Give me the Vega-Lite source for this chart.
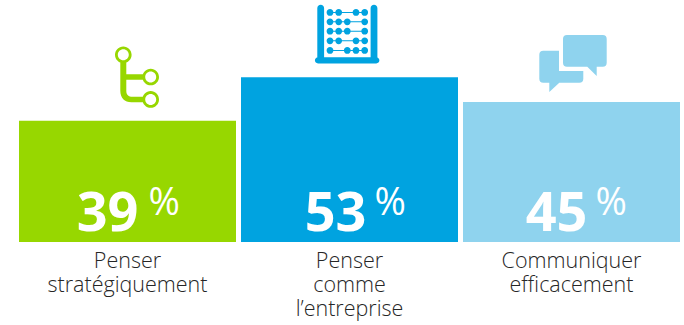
{
  "$schema": "https://vega.github.io/schema/vega-lite/v6.json",
  "width": 661,
  "height": 242,
  "autosize": "none",
  "padding": {"left": 19, "top": 0, "right": 4, "bottom": 83},
  "background": "white",
  "config": {"view": {"stroke": null}},
  "data": {"values": [
    {"competence": "Penser\nstratégiquement", "part": 39},
    {"competence": "Penser\ncomme\nl’entreprise", "part": 53},
    {"competence": "Communiquer\nefficacement", "part": 45}
  ]},
  "encoding": {
    "x": {
      "field": "competence", "type": "nominal", "sort": null, "title": null,
      "scale": {"paddingInner": 0.0225, "paddingOuter": 0},
      "axis": {
        "domain": false, "ticks": false, "labelAngle": 0, "labelPadding": 8,
        "labelExpr": "split(datum.value, '\\n')",
        "labelFont": "Open Sans", "labelFontSize": 21.5, "labelFontWeight": 300,
        "labelColor": "#262626", "labelLineHeight": 24, "labelLimit": 300
      }
    }
  },
  "layer": [
    {
      "mark": {"type": "bar"},
      "encoding": {
        "y": {"field": "part", "type": "quantitative", "scale": {"domain": [0, 77.8], "nice": false}, "axis": null},
        "color": {
          "field": "competence", "type": "nominal", "sort": null, "legend": null,
          "scale": {"range": ["#97d700", "#00a3e0", "#8fd3ee"]}
        }
      }
    },
    {
      "mark": {"type": "point", "filled": true, "size": 4, "opacity": 1},
      "encoding": {
        "y": {"field": "part", "type": "quantitative"},
        "color": {"field": "competence", "type": "nominal", "sort": null, "legend": null},
        "shape": {
          "field": "competence", "type": "nominal", "sort": null, "legend": null,
          "scale": {"range": [
            "M-4.2 -74.3A8.3 8.3 0 1 1 -4.2 -57.7A8.3 8.3 0 1 1 -4.2 -74.3ZM-4.2 -71.5A5.5 5.5 0 1 0 -4.2 -60.5A5.5 5.5 0 1 0 -4.2 -71.5ZM-7.2 -58L-1.2 -58L-1.2 -46.5L15.5 -46.5L15.5 -41L-1.2 -41L-1.2 -30C-1.2 -26 1 -24 5 -24L15.5 -24L15.5 -18.5L4 -18.5C-3 -18.5 -7.2 -23 -7.2 -30ZM23.2 -52A8.3 8.3 0 1 1 23.2 -35.4A8.3 8.3 0 1 1 23.2 -52ZM23.2 -49.2A5.5 5.5 0 1 0 23.2 -38.2A5.5 5.5 0 1 0 23.2 -49.2ZM23.2 -29.6A8.3 8.3 0 1 1 23.2 -13A8.3 8.3 0 1 1 23.2 -29.6ZM23.2 -26.8A5.5 5.5 0 1 0 23.2 -15.8A5.5 5.5 0 1 0 23.2 -26.8Z",
            "M-32.2 -69A3.4 3.4 0 0 1 -25.4 -69L-25.4 -14L-32.2 -14ZM21.1 -69A3.4 3.4 0 0 1 27.9 -69L27.9 -14L21.1 -14ZM-31.5 -19.9L26.8 -19.9A3.1 3.1 0 0 1 26.8 -13.7L-31.5 -13.7A3.1 3.1 0 0 1 -31.5 -19.9ZM-19.5 -65.2L15.2 -65.2L15.2 -64.2L-19.5 -64.2ZM-19.5 -55.8L15.2 -55.8L15.2 -54.8L-19.5 -54.8ZM-19.5 -46.5L15.2 -46.5L15.2 -45.5L-19.5 -45.5ZM-19.5 -36.8L15.2 -36.8L15.2 -35.8L-19.5 -35.8ZM-19.5 -27.2L15.2 -27.2L15.2 -26.2L-19.5 -26.2ZM-22.9 -64.7A3.4 3.4 0 1 1 -16.1 -64.7A3.4 3.4 0 1 1 -22.9 -64.7ZM-14.2 -64.7A3.4 3.4 0 1 1 -7.4 -64.7A3.4 3.4 0 1 1 -14.2 -64.7ZM3.1 -64.7A3.4 3.4 0 1 1 9.9 -64.7A3.4 3.4 0 1 1 3.1 -64.7ZM11.8 -64.7A3.4 3.4 0 1 1 18.6 -64.7A3.4 3.4 0 1 1 11.8 -64.7ZM-22.9 -55.3A3.4 3.4 0 1 1 -16.1 -55.3A3.4 3.4 0 1 1 -22.9 -55.3ZM-14.2 -55.3A3.4 3.4 0 1 1 -7.4 -55.3A3.4 3.4 0 1 1 -14.2 -55.3ZM-5.6 -55.3A3.4 3.4 0 1 1 1.2 -55.3A3.4 3.4 0 1 1 -5.6 -55.3ZM11.8 -55.3A3.4 3.4 0 1 1 18.6 -55.3A3.4 3.4 0 1 1 11.8 -55.3ZM-22.9 -46A3.4 3.4 0 1 1 -16.1 -46A3.4 3.4 0 1 1 -22.9 -46ZM-14.2 -46A3.4 3.4 0 1 1 -7.4 -46A3.4 3.4 0 1 1 -14.2 -46ZM-5.6 -46A3.4 3.4 0 1 1 1.2 -46A3.4 3.4 0 1 1 -5.6 -46ZM11.8 -46A3.4 3.4 0 1 1 18.6 -46A3.4 3.4 0 1 1 11.8 -46ZM-22.9 -36.3A3.4 3.4 0 1 1 -16.1 -36.3A3.4 3.4 0 1 1 -22.9 -36.3ZM-14.2 -36.3A3.4 3.4 0 1 1 -7.4 -36.3A3.4 3.4 0 1 1 -14.2 -36.3ZM3.1 -36.3A3.4 3.4 0 1 1 9.9 -36.3A3.4 3.4 0 1 1 3.1 -36.3ZM11.8 -36.3A3.4 3.4 0 1 1 18.6 -36.3A3.4 3.4 0 1 1 11.8 -36.3ZM-22.9 -26.7A3.4 3.4 0 1 1 -16.1 -26.7A3.4 3.4 0 1 1 -22.9 -26.7ZM-5.6 -26.7A3.4 3.4 0 1 1 1.2 -26.7A3.4 3.4 0 1 1 -5.6 -26.7ZM3.1 -26.7A3.4 3.4 0 1 1 9.9 -26.7A3.4 3.4 0 1 1 3.1 -26.7ZM11.8 -26.7A3.4 3.4 0 1 1 18.6 -26.7A3.4 3.4 0 1 1 11.8 -26.7Z",
            "M-28.2 -51.3L-12.5 -51.3L-12.5 -31L11.8 -31L11.8 -23.3Q11.8 -19.3 7.8 -19.3L-12.2 -19.3L-22.2 -10L-22.2 -19.3L-28.2 -19.3Q-32.2 -19.3 -32.2 -23.3L-32.2 -47.3Q-32.2 -51.3 -28.2 -51.3ZM-4.5 -67L31.2 -67Q35.2 -67 35.2 -63L35.2 -39.3Q35.2 -35.3 31.2 -35.3L25.2 -35.3L25.2 -26L15.8 -35.3L-4.5 -35.3Q-8.5 -35.3 -8.5 -39.3L-8.5 -63Q-8.5 -67 -4.5 -67Z"
          ]}
        }
      }
    },
    {
      "transform": [{"filter": "datum.part === 39"}],
      "mark": {"type": "text", "font": "Open Sans", "fontWeight": 700, "fontSize": 54, "color": "white", "align": "right", "baseline": "alphabetic", "dx": 11, "dy": -11},
      "encoding": {"y": {"datum": 0, "type": "quantitative"}, "text": {"field": "part", "type": "quantitative"}}
    },
    {
      "transform": [{"filter": "datum.part === 53"}],
      "mark": {"type": "text", "font": "Open Sans", "fontWeight": 700, "fontSize": 54, "color": "white", "align": "right", "baseline": "alphabetic", "dx": 17, "dy": -11},
      "encoding": {"y": {"datum": 0, "type": "quantitative"}, "text": {"field": "part", "type": "quantitative"}}
    },
    {
      "transform": [{"filter": "datum.part === 45"}],
      "mark": {"type": "text", "font": "Open Sans", "fontWeight": 700, "fontSize": 54, "color": "white", "align": "right", "baseline": "alphabetic", "dx": 16, "dy": -11},
      "encoding": {"y": {"datum": 0, "type": "quantitative"}, "text": {"field": "part", "type": "quantitative"}}
    },
    {
      "transform": [{"filter": "datum.part === 39"}],
      "mark": {"type": "text", "font": "Open Sans", "fontWeight": 400, "fontSize": 38, "color": "white", "align": "left", "baseline": "alphabetic", "dx": 21, "dy": -27, "text": "%"},
      "encoding": {"y": {"datum": 0, "type": "quantitative"}}
    },
    {
      "transform": [{"filter": "datum.part === 53"}],
      "mark": {"type": "text", "font": "Open Sans", "fontWeight": 400, "fontSize": 38, "color": "white", "align": "left", "baseline": "alphabetic", "dx": 25, "dy": -27, "text": "%"},
      "encoding": {"y": {"datum": 0, "type": "quantitative"}}
    },
    {
      "transform": [{"filter": "datum.part === 45"}],
      "mark": {"type": "text", "font": "Open Sans", "fontWeight": 400, "fontSize": 38, "color": "white", "align": "left", "baseline": "alphabetic", "dx": 24, "dy": -27, "text": "%"},
      "encoding": {"y": {"datum": 0, "type": "quantitative"}}
    }
  ]
}
